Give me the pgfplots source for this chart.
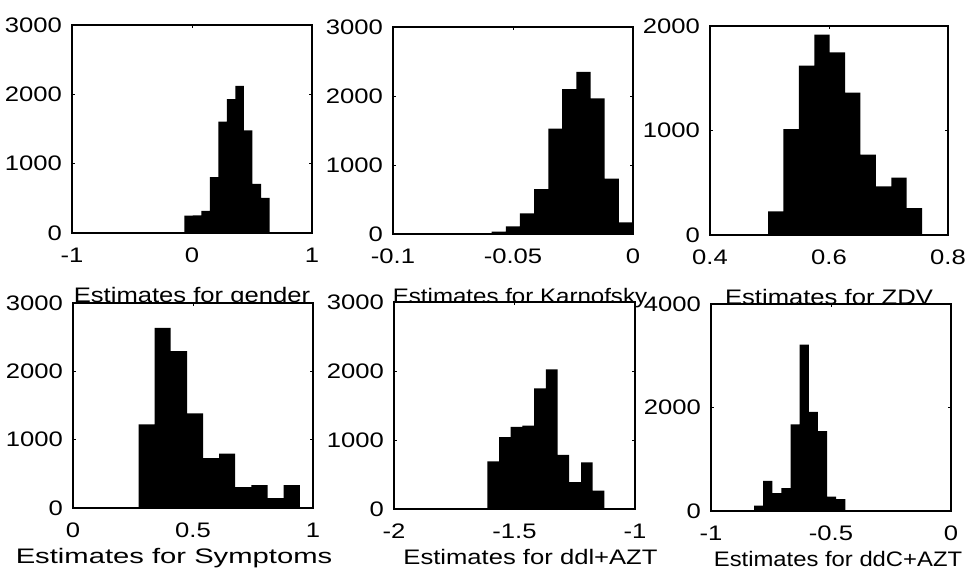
\documentclass[border=0pt]{standalone}
\usepackage{pgfplots}
\pgfplotsset{compat=1.18}
\usepackage{fontspec}
\setmainfont{Liberation Sans}[FakeStretch=1.22]
\pgfplotsset{
  hist/.style={
    scale only axis, anchor=south west,
    axis background/.style={fill=white},
    tick align=inside, major tick length=3pt,
    axis line style={line width=1.1pt},
    every tick/.style={black, line width=0.6pt},
    xticklabel style={anchor=north, inner sep=0pt, yshift=-15pt},
    yticklabel style={anchor=east, inner sep=0pt, xshift=-10pt},
    scaled ticks=false,
    xlabel style={at={(axis description cs:0.5,0)}, anchor=base, inner sep=0pt},
  },
  toprow/.style={xlabel style={yshift=-70pt}},
  botrow/.style={xlabel style={yshift=-56pt}},
  bars/.style={const plot, fill=black, draw=none},
}
\begin{document}
\fontsize{21}{25}\selectfont
\begin{tikzpicture}[font=\fontsize{21}{25}\selectfont]
\useasboundingbox (0,0) rectangle (969pt,588pt);
% 1 gender
\begin{axis}[hist, toprow, at={(72pt,355pt)}, width=240pt, height=208pt,
  xmin=-1, xmax=1, ymin=0, ymax=3000,
  xtick={-1,0,1}, xticklabels={-1,0,1},
  ytick={0,1000,2000,3000}, yticklabels={0,1000,2000,3000},
  xlabel={Estimates for gender}]
\addplot[bars] coordinates {(-0.064,250) (0.007,255) (0.078,320) (0.149,805) (0.220,1606) (0.291,1929) (0.362,2122) (0.433,1480) (0.504,709) (0.575,506) (0.646,506)} \closedcycle;
\end{axis}
% 2 Karnofsky
\begin{axis}[hist, toprow, at={(393pt,354pt)}, width=240pt, height=207pt,
  xmin=-0.1, xmax=0, ymin=0, ymax=3000,
  xtick={-0.1,-0.05,0}, xticklabels={-0.1,-0.05,0},
  ytick={0,1000,2000,3000}, yticklabels={0,1000,2000,3000},
  xlabel={\scalebox{0.94}[1]{Estimates for Karnofsky}}, xlabel style={xshift=7pt}]
\addplot[bars] coordinates {(-0.0589,35) (-0.0530,110) (-0.0471,300) (-0.0412,650) (-0.0353,1527) (-0.0295,2099) (-0.0236,2350) (-0.0177,1965) (-0.0118,804) (-0.0059,169) (0.0,169)} \closedcycle;
\end{axis}
% 3 ZDV
\begin{axis}[hist, toprow, at={(710pt,353pt)}, width=238pt, height=209pt,
  xmin=0.4, xmax=0.8, ymin=0, ymax=2000,
  xtick={0.4,0.6,0.8}, xticklabels={0.4,0.6,0.8},
  ytick={0,1000,2000}, yticklabels={0,1000,2000},
  xlabel={Estimates for ZDV}]
\addplot[bars] coordinates {(0.4975,225) (0.5234,1014) (0.5493,1620) (0.5752,1918) (0.6011,1747) (0.6270,1363) (0.6529,770) (0.6788,466) (0.7047,548) (0.7306,257) (0.7565,257)} \closedcycle;
\end{axis}
% 4 Symptoms
\begin{axis}[hist, botrow, at={(73pt,80pt)}, width=240pt, height=205pt,
  xmin=0, xmax=1, ymin=0, ymax=3000,
  xtick={0,0.5,1}, xticklabels={0,0.5,1},
  ytick={0,1000,2000,3000}, yticklabels={0,1000,2000,3000},
  xlabel={\scalebox{1.14}[1]{Estimates for Symptoms}}, xlabel style={xshift=-19pt}]
\addplot[bars] coordinates {(0.273,1225) (0.340,2635) (0.407,2294) (0.475,1386) (0.542,729) (0.609,797) (0.676,306) (0.743,335) (0.811,146) (0.878,335) (0.945,335)} \closedcycle;
\end{axis}
% 5 ddI+AZT
\begin{axis}[hist, botrow, at={(394pt,79pt)}, width=241pt, height=207pt,
  xmin=-2, xmax=-1, ymin=0, ymax=3000,
  xtick={-2,-1.5,-1}, xticklabels={-2,-1.5,-1},
  ytick={0,1000,2000,3000}, yticklabels={0,1000,2000,3000},
  xlabel={Estimates for ddl+AZT}, xlabel style={xshift=16pt}]
\addplot[bars] coordinates {(-1.613,689) (-1.564,1040) (-1.516,1190) (-1.467,1210) (-1.419,1748) (-1.370,2022) (-1.321,785) (-1.273,390) (-1.224,674) (-1.176,265) (-1.127,265)} \closedcycle;
\end{axis}
% 6 ddC+AZT
\begin{axis}[hist, botrow, at={(711pt,77pt)}, width=240pt, height=207pt,
  xmin=-1, xmax=0, ymin=0, ymax=4000,
  xtick={-1,-0.5,0}, xticklabels={-1,-0.5,0},
  ytick={0,2000,4000}, yticklabels={0,2000,4000},
  xlabel={\scalebox{0.93}[1]{Estimates for ddC+AZT}}, xlabel style={xshift=7pt}]
\addplot[bars] coordinates {(-0.8208,104) (-0.7828,584) (-0.7447,344) (-0.7067,442) (-0.6686,1675) (-0.6306,3214) (-0.5926,1916) (-0.5545,1545) (-0.5165,279) (-0.4784,227) (-0.4404,227)} \closedcycle;
\end{axis}
\end{tikzpicture}
\end{document}
